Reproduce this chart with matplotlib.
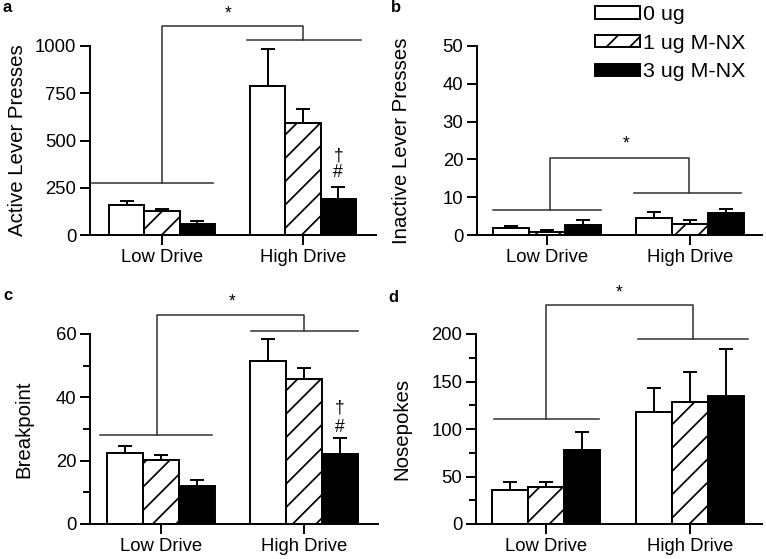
import matplotlib
matplotlib.use("Agg")
import matplotlib.pyplot as plt
import numpy as np

plt.rcParams["font.family"] = ["Liberation Sans", "DejaVu Sans"]
plt.rcParams["hatch.linewidth"] = 0.9

GROUPS = ["Low Drive", "High Drive"]
DOSES = ["0 ug", "1 ug M-NX", "3 ug M-NX"]

# rows = dose, columns = [Low Drive, High Drive]
ACTIVE_MEAN = [[158, 791], [125, 591], [58, 191]]
ACTIVE_SEM = [[24, 193], [15, 76], [17, 63]]
INACTIVE_MEAN = [[1.9, 4.6], [0.9, 2.9], [2.7, 5.8]]
INACTIVE_SEM = [[0.5, 1.4], [0.4, 1.1], [1.3, 1.2]]
BREAKPOINT_MEAN = [[22.5, 51.5], [20.1, 45.9], [11.9, 22.1]]
BREAKPOINT_SEM = [[2.0, 6.9], [1.6, 3.4], [2.1, 5.0]]
NOSEPOKE_MEAN = [[36, 117.7], [38.5, 128.2], [77.4, 135.2]]
NOSEPOKE_SEM = [[7.8, 25.9], [6.0, 31.5], [19.6, 49.4]]

# significance brackets: (low line y, high line y, top y)
ACTIVE_BRACKET = (275, 1032, 1105)
INACTIVE_BRACKET = (6.6, 11.2, 20.4)
BREAKPOINT_BRACKET = (28, 61, 65.9)
NOSEPOKE_BRACKET = (110.7, 194.7, 230.8)

W, H, DPI = 766, 559, 140
BAR_W = 0.25
OFFSETS = [-0.25, 0.0, 0.25]
STYLES = [
    dict(facecolor="white"),
    dict(facecolor="white", hatch="//"),
    dict(facecolor="black"),
]


def make_axes(fig, left, right, top, bottom, low_px, high_px):
    ax = fig.add_axes([left / W, 1 - bottom / H, (right - left) / W, (bottom - top) / H])
    unit = high_px - low_px
    ax.set_xlim((left - low_px) / unit, (right - low_px) / unit)
    return ax


def draw_panel(ax, means, sems, ymax, step, minor, ylabel, label_x):
    x = np.arange(len(GROUPS))
    for i, dose in enumerate(DOSES):
        xs = x + OFFSETS[i]
        ax.bar(xs, means[i], width=BAR_W, edgecolor="black", linewidth=1.0,
               label=dose, zorder=2, **STYLES[i])
        ax.errorbar(xs, means[i], yerr=[np.zeros(len(xs)), sems[i]], fmt="none",
                    ecolor="black", elinewidth=1.0, capsize=3.8, capthick=1.0, zorder=3)
    ax.set_ylim(0, ymax)
    ax.set_yticks(np.arange(0, ymax + step / 2, step))
    if minor:
        ax.set_yticks(np.arange(minor, ymax, step), minor=True)
    ax.set_xticks(x)
    ax.set_xticklabels(GROUPS)
    ax.tick_params(axis="both", labelsize=9.5, width=1.0, length=5, pad=2)
    ax.tick_params(axis="y", which="minor", width=1.0, length=3.5)
    for side in ("top", "right"):
        ax.spines[side].set_visible(False)
    for side in ("left", "bottom"):
        ax.spines[side].set_linewidth(1.0)
    ax.set_ylabel(ylabel, fontsize=10.5)
    ax.yaxis.set_label_coords(label_x, 0.5)


def bracket(ax, levels, low_span, high_span, xv):
    low_y, high_y, top_y = levels
    kw = dict(color="#333333", lw=0.8, clip_on=False)
    ax.plot(low_span, [low_y, low_y], **kw)
    ax.plot(high_span, [high_y, high_y], **kw)
    ax.plot([xv[0], xv[0], xv[1], xv[1]], [low_y, top_y, top_y, high_y], **kw)


fig = plt.figure(figsize=(W / DPI, H / DPI), dpi=DPI)

ax_a = make_axes(fig, 90, 376, 46, 235, 162, 303)
draw_panel(ax_a, ACTIVE_MEAN, ACTIVE_SEM, 1000, 250, None, "Active Lever Presses", -0.222)
bracket(ax_a, ACTIVE_BRACKET, [-0.5, 0.36], [0.6, 1.41], [0.0, 1.0])
ax_a.text(0.47, 1168, "*", ha="center", va="center", fontsize=9)
ax_a.text(1.25, 416, "\u2020", ha="center", va="center", fontsize=9)
ax_a.text(1.25, 331, "#", ha="center", va="center", fontsize=9)

ax_b = make_axes(fig, 477, 762, 46, 235, 547, 690)
draw_panel(ax_b, INACTIVE_MEAN, INACTIVE_SEM, 50, 10, None, "Inactive Lever Presses", -0.23)
bracket(ax_b, INACTIVE_BRACKET, [-0.38, 0.38], [0.61, 1.36], [0.02, 0.99])
ax_b.text(0.55, 24.2, "*", ha="center", va="center", fontsize=9)

ax_c = make_axes(fig, 90, 378, 334, 524, 161, 304)
draw_panel(ax_c, BREAKPOINT_MEAN, BREAKPOINT_SEM, 60, 20, 10, "Breakpoint", -0.198)
bracket(ax_c, BREAKPOINT_BRACKET, [-0.43, 0.36], [0.63, 1.38], [-0.03, 1.0])
ax_c.text(0.5, 70.1, "*", ha="center", va="center", fontsize=9)
ax_c.text(1.25, 36.6, "\u2020", ha="center", va="center", fontsize=9)
ax_c.text(1.25, 30.6, "#", ha="center", va="center", fontsize=9)

ax_d = make_axes(fig, 476, 762, 334, 524, 546, 690)
draw_panel(ax_d, NOSEPOKE_MEAN, NOSEPOKE_SEM, 200, 50, 25, "Nosepokes", -0.227)
bracket(ax_d, NOSEPOKE_BRACKET, [-0.36, 0.37], [0.64, 1.4], [0.0, 1.02])
ax_d.text(0.51, 243, "*", ha="center", va="center", fontsize=9)

ax_b.legend(loc="upper left", bbox_to_anchor=(595 / W, 1 - 5 / H),
            bbox_transform=fig.transFigure, frameon=False, borderpad=0,
            borderaxespad=0, handlelength=2.1, handleheight=0.5,
            handletextpad=0.15, labelspacing=0.45, fontsize=11)

for letter, px, py in [("a", 3, 12), ("b", 391, 12), ("c", 3, 300), ("d", 388, 302)]:
    fig.text(px / W, 1 - py / H, letter, fontsize=8.5, fontweight="bold",
             ha="left", va="baseline")

fig.savefig("out.png", dpi=DPI)
